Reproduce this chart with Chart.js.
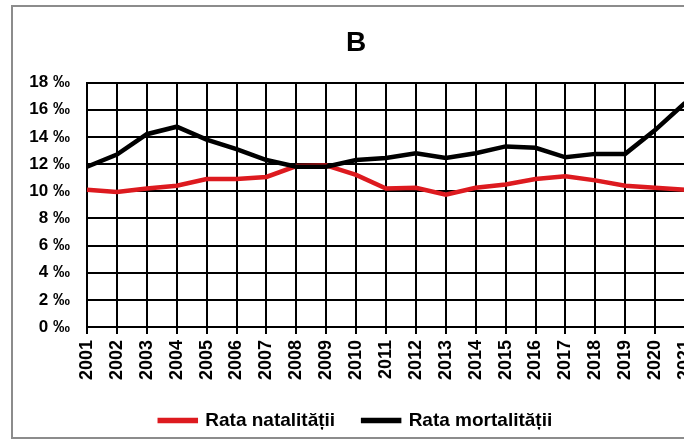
<!DOCTYPE html>
<html>
<head>
<meta charset="utf-8">
<script src="https://cdn.jsdelivr.net/npm/chart.js@4"></script>
<style>
  html, body { margin: 0; padding: 0; background: #fff; width: 684px; height: 441px; overflow: hidden; }
  #frame { position: absolute; left: 11px; top: 5px; width: 720px; height: 430px;
           border-left: 2px solid #8c8c8c; border-top: 2px solid #8c8c8c; border-bottom: 2px solid #8c8c8c;
           overflow: hidden; background: #fff; }
  #c { position: absolute; left: 0; top: 0; }
</style>
</head>
<body>
<div id="frame"><canvas id="c" width="700" height="433"></canvas></div>
<script>
const years = ['2001','2002','2003','2004','2005','2006','2007','2008','2009','2010','2011','2012','2013','2014','2015','2016','2017','2018','2019','2020','2021'];
const rataNatalitatii = [10.1, 9.95, 10.2, 10.4, 10.9, 10.9, 11.05, 11.85, 11.9, 11.2, 10.2, 10.25, 9.75, 10.25, 10.5, 10.9, 11.1, 10.8, 10.4, 10.25, 10.1];
const rataMortalitatii = [11.8, 12.7, 14.2, 14.75, 13.8, 13.1, 12.3, 11.8, 11.8, 12.3, 12.45, 12.8, 12.45, 12.8, 13.3, 13.2, 12.5, 12.75, 12.75, 14.5, 16.5];
const yTicks = [0, 2, 4, 6, 8, 10, 12, 14, 16, 18];
const titleText = 'B';

const FONT = 'Arial, "Liberation Sans", sans-serif';
const canvas = document.getElementById('c');
canvas.style.width = '700px';
canvas.style.height = '433px';

new Chart(canvas, {
  type: 'line',
  data: {
    labels: years,
    datasets: [
      { label: 'Rata mortalității', data: rataMortalitatii, borderColor: '#000000', backgroundColor: '#000000',
        borderWidth: 4.5, pointRadius: 0, tension: 0 },
      { label: 'Rata natalității', data: rataNatalitatii, borderColor: '#dd1a1f', backgroundColor: '#dd1a1f',
        borderWidth: 4.5, pointRadius: 0, tension: 0 }
    ]
  },
  options: {
    responsive: false,
    animation: false,
    devicePixelRatio: 1,
    layout: { padding: { left: 14, right: 28, top: 0, bottom: 0 } },
    plugins: {
      title: { display: true, text: titleText, color: '#000',
               font: { family: FONT, size: 28, weight: 'bold', lineHeight: 1.2 },
               padding: { top: 19, bottom: 23 } },
      legend: { position: 'bottom', reverse: true,
                labels: { color: '#000', boxWidth: 36, boxHeight: 1, padding: 28,
                          font: { family: FONT, size: 19, weight: 'bold' } } },
      tooltip: { enabled: false }
    },
    scales: {
      x: {
        offset: false,
        grid: { color: '#000', lineWidth: 2, drawTicks: true, tickLength: 7, tickColor: '#000', tickWidth: 2 },
        border: { color: '#000', width: 2 },
        ticks: { color: '#000', autoSkip: false, minRotation: 90, maxRotation: 90, padding: 6,
                 font: { family: FONT, size: 18, weight: 'bold' } },
        afterFit: (s) => { s.height = 56; }
      },
      y: {
        min: 0, max: 18,
        afterBuildTicks: (s) => { s.ticks = yTicks.map(v => ({ value: v })); },
        grid: { color: '#000', lineWidth: 2, drawTicks: false },
        border: { color: '#000', width: 2 },
        ticks: { color: '#000', padding: 17, callback: (v) => v + ' ‰',
                 font: { family: FONT, size: 17, weight: 'bold' } },
        afterFit: (s) => { s.width = 60; }
      }
    }
  }
});
</script>
</body>
</html>
